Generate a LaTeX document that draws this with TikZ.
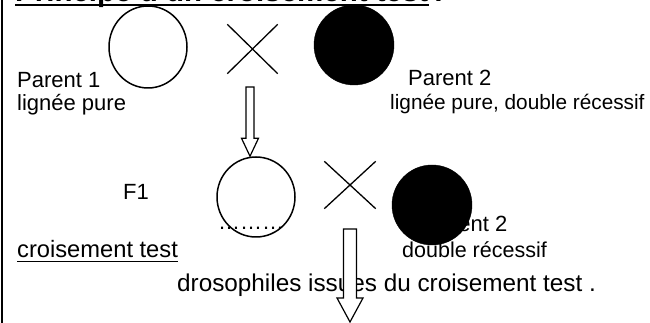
\documentclass[tikz,border=0pt]{standalone}
\usepackage{fontspec}
\setmainfont{Liberation Sans}
\usetikzlibrary{shapes.geometric,shapes.misc}
\begin{document}
\begin{tikzpicture}[x=1pt,y=1pt,
  txt/.style={anchor=base west,inner sep=0pt,font=\fontsize{22}{26}\selectfont},
  ttl/.style={anchor=base west,inner sep=0pt,font=\fontsize{29.5}{34}\selectfont\bfseries},
  opencirc/.style={ellipse,draw,line width=1.5pt,inner sep=0pt},
  fullcirc/.style={ellipse,fill=black,draw=black,inner sep=0pt},
  crossmark/.style={cross out,draw,line width=1.3pt,inner sep=0pt},
  hollowarrow/.style={draw,fill=white,line width=1.2pt,line join=miter}]
\useasboundingbox (0,0) rectangle (650,323);
% left frame line
\draw[line width=1.5pt] (2,0) -- (2,323);
% title
\node[ttl] (title) at (15,321.5) {Principe d'un croisement test};
\node[ttl,anchor=base west] (colon) at ([xshift=5pt]title.base east) {:};
\draw[line width=2.5pt] ([yshift=-3.5pt]title.base west) -- ([yshift=-3.5pt]title.base east);
% parents row
\node[opencirc,minimum width=78pt,minimum height=82pt] (p1) at (148,276) {};
\node[crossmark,minimum width=49pt,minimum height=48pt] (x1) at (252.5,274) {};
\node[fullcirc,minimum width=80pt,minimum height=80pt] (p2) at (354,278) {};
\node[txt] (lp1) at (17,235) {Parent 1};
\node[txt] (lp1b) at (17,212) {lignée pure};
\node[txt] (lp2) at (408,237) {Parent 2};
\node[txt,font=\fontsize{20.8}{25}\selectfont] (lp2b) at (390,213) {lignée pure, double récessif};
% F1 row
\node[txt] (lf1) at (123,123) {F1};
\node[txt] (lp3) at (424,91) {Parent 2};
\node[opencirc,minimum width=78pt,minimum height=80pt] (f1) at (256,126) {};
\node[txt] (dots) at (218,93) {………};
\node[crossmark,minimum width=50pt,minimum height=46pt] (x2) at (350,138) {};
\node[fullcirc,minimum width=80pt,minimum height=80pt] (p3) at (432,118) {};
\node[txt,font=\fontsize{23.7}{28}\selectfont] (ct) at (17,65) {croisement test};
\draw[line width=1.1pt] ([yshift=-3.5pt]ct.base west) -- ([yshift=-3.5pt]ct.base east);
\node[txt,font=\fontsize{21.5}{26}\selectfont] (dr) at (402,65) {double récessif};
\node[txt,font=\fontsize{24.3}{29}\selectfont] (dros) at (177,31) {drosophiles issues du croisement test .};
% arrow 1
\coordinate (a1s) at (250,236);
\coordinate (a1t) at (a1s |- f1.north);
\draw[hollowarrow] ([xshift=-4pt]a1s) -- ([xshift=-4pt,yshift=18pt]a1t) -- ([xshift=-8.5pt,yshift=18pt]a1t) -- (a1t) -- ([xshift=8.5pt,yshift=18pt]a1t) -- ([xshift=4pt,yshift=18pt]a1t) -- ([xshift=4pt]a1s) -- cycle;
% arrow 2
\coordinate (a2s) at (350,94);
\coordinate (a2t) at (350,1);
\draw[hollowarrow] ([xshift=-6.5pt]a2s) -- ([xshift=-6.5pt,yshift=24pt]a2t) -- ([xshift=-13pt,yshift=24pt]a2t) -- (a2t) -- ([xshift=13pt,yshift=24pt]a2t) -- ([xshift=6.5pt,yshift=24pt]a2t) -- ([xshift=6.5pt]a2s) -- cycle;
\end{tikzpicture}
\end{document}
